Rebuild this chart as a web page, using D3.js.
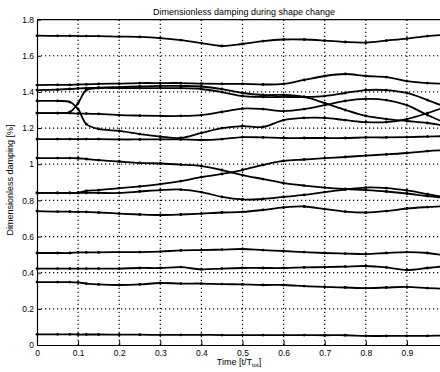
<!DOCTYPE html>
<html>
<head>
<meta charset="utf-8">
<script src="https://cdn.jsdelivr.net/npm/d3@7"></script>
<style>
body { margin: 0; background: #fff; }
text { font-family: "Liberation Sans", Arial, sans-serif; fill: #000; }
</style>
</head>
<body>
<svg width="440" height="372"></svg>
<script>
// time steps (t / T_tot) at which the curves were read
var time = [0, 0.05, 0.08, 0.1, 0.12, 0.15, 0.2, 0.25, 0.3, 0.35, 0.4, 0.45, 0.5, 0.55, 0.6, 0.65, 0.7, 0.75, 0.8, 0.85, 0.9, 0.95, 1];

// damping of each mode [%]
var mode1 = [1.711, 1.710, 1.710, 1.709, 1.709, 1.709, 1.706, 1.704, 1.698, 1.687, 1.670, 1.654, 1.665, 1.681, 1.690, 1.690, 1.684, 1.676, 1.673, 1.684, 1.695, 1.709, 1.717];
var mode2 = [1.438, 1.439, 1.439, 1.441, 1.442, 1.444, 1.446, 1.449, 1.449, 1.449, 1.446, 1.444, 1.444, 1.441, 1.444, 1.466, 1.488, 1.499, 1.488, 1.482, 1.460, 1.449, 1.444];
var mode3 = [1.410, 1.413, 1.416, 1.419, 1.421, 1.424, 1.427, 1.430, 1.433, 1.433, 1.430, 1.416, 1.394, 1.383, 1.383, 1.372, 1.338, 1.300, 1.267, 1.250, 1.239, 1.228, 1.211];
var mode4 = [1.283, 1.283, 1.289, 1.338, 1.410, 1.421, 1.421, 1.421, 1.421, 1.421, 1.416, 1.399, 1.377, 1.372, 1.372, 1.372, 1.377, 1.394, 1.410, 1.410, 1.394, 1.355, 1.311];
var mode5 = [1.350, 1.350, 1.344, 1.305, 1.222, 1.195, 1.184, 1.167, 1.153, 1.145, 1.173, 1.200, 1.211, 1.206, 1.244, 1.256, 1.256, 1.244, 1.233, 1.233, 1.250, 1.283, 1.322];
var mode6 = [1.283, 1.283, 1.283, 1.280, 1.280, 1.278, 1.272, 1.269, 1.267, 1.267, 1.272, 1.289, 1.308, 1.305, 1.294, 1.305, 1.327, 1.350, 1.361, 1.355, 1.327, 1.272, 1.222];
var mode7 = [1.139, 1.139, 1.139, 1.139, 1.139, 1.139, 1.137, 1.137, 1.137, 1.137, 1.134, 1.139, 1.150, 1.148, 1.145, 1.145, 1.145, 1.145, 1.148, 1.148, 1.150, 1.153, 1.156];
var mode8 = [1.034, 1.034, 1.034, 1.033, 1.029, 1.023, 1.015, 1.007, 1.004, 0.998, 0.990, 0.968, 0.940, 0.918, 0.896, 0.882, 0.871, 0.863, 0.857, 0.849, 0.838, 0.824, 0.813];
var mode9 = [0.841, 0.841, 0.841, 0.843, 0.852, 0.857, 0.868, 0.877, 0.890, 0.907, 0.929, 0.946, 0.968, 0.996, 1.018, 1.026, 1.034, 1.040, 1.048, 1.054, 1.062, 1.073, 1.079];
var mode10 = [0.841, 0.841, 0.841, 0.841, 0.841, 0.841, 0.841, 0.849, 0.857, 0.860, 0.846, 0.819, 0.805, 0.808, 0.819, 0.830, 0.846, 0.860, 0.871, 0.868, 0.855, 0.835, 0.813];
var mode11 = [0.741, 0.738, 0.738, 0.736, 0.736, 0.733, 0.727, 0.722, 0.719, 0.722, 0.727, 0.733, 0.736, 0.747, 0.761, 0.766, 0.752, 0.738, 0.733, 0.741, 0.755, 0.763, 0.769];
var mode12 = [0.509, 0.509, 0.509, 0.512, 0.512, 0.512, 0.514, 0.514, 0.517, 0.523, 0.525, 0.528, 0.531, 0.525, 0.520, 0.514, 0.509, 0.506, 0.503, 0.509, 0.514, 0.509, 0.492];
var mode13 = [0.423, 0.423, 0.423, 0.423, 0.423, 0.423, 0.423, 0.426, 0.426, 0.431, 0.418, 0.423, 0.426, 0.426, 0.426, 0.429, 0.431, 0.434, 0.437, 0.429, 0.415, 0.426, 0.437];
var mode14 = [0.348, 0.348, 0.348, 0.346, 0.340, 0.335, 0.332, 0.335, 0.343, 0.340, 0.340, 0.337, 0.335, 0.332, 0.332, 0.326, 0.321, 0.318, 0.315, 0.318, 0.321, 0.315, 0.310];
var mode15 = [0.059, 0.059, 0.059, 0.058, 0.058, 0.058, 0.057, 0.057, 0.056, 0.056, 0.056, 0.055, 0.055, 0.055, 0.055, 0.055, 0.054, 0.054, 0.050, 0.050, 0.050, 0.051, 0.052];

// the x = 1 tick falls outside the picture, so it is not listed
var xTicks = [0, 0.1, 0.2, 0.3, 0.4, 0.5, 0.6, 0.7, 0.8, 0.9];
var xTickLabels = ["0", "0.1", "0.2", "0.3", "0.4", "0.5", "0.6", "0.7", "0.8", "0.9"];
var yTicks = [0, 0.2, 0.4, 0.6, 0.8, 1, 1.2, 1.4, 1.6, 1.8];
var yTickLabels = ["0", "0.2", "0.4", "0.6", "0.8", "1", "1.2", "1.4", "1.6", "1.8"];

var modes = [mode1, mode2, mode3, mode4, mode5, mode6, mode7, mode8, mode9, mode10, mode11, mode12, mode13, mode14, mode15];

var xScale = d3.scaleLinear()
    .domain([0, 1])
    .range([37, 448]);

var yScale = d3.scaleLinear()
    .domain([0, 1.8])
    .range([345, 19.6]);

var svg = d3.select("svg");

// dotted grid
svg.append("g")
    .selectAll("line")
    .data(xTicks.slice(1))
    .enter().append("line")
    .attr("x1", function(d) { return xScale(d); })
    .attr("x2", function(d) { return xScale(d); })
    .attr("y1", yScale(0))
    .attr("y2", yScale(1.8))
    .attr("stroke", "#000")
    .attr("stroke-width", 1.2)
    .attr("stroke-dasharray", "1.2,2.8");

svg.append("g")
    .selectAll("line")
    .data(yTicks.slice(1, -1))
    .enter().append("line")
    .attr("x1", xScale(0))
    .attr("x2", xScale(1))
    .attr("y1", function(d) { return yScale(d); })
    .attr("y2", function(d) { return yScale(d); })
    .attr("stroke", "#000")
    .attr("stroke-width", 1.2)
    .attr("stroke-dasharray", "1.2,2.8");

// curves
var line = d3.line()
    .x(function(d, i) { return xScale(time[i]); })
    .y(function(d) { return yScale(d); })
    .curve(d3.curveCatmullRom);

svg.append("g")
    .selectAll("path")
    .data(modes)
    .enter().append("path")
    .attr("d", line)
    .attr("fill", "none")
    .attr("stroke", "#000")
    .attr("stroke-width", 1.8);

svg.append("g")
    .selectAll("g")
    .data(modes)
    .enter().append("g")
    .selectAll("circle")
    .data(function(d) { return d; })
    .enter().append("circle")
    .attr("cx", function(d, i) { return xScale(time[i]); })
    .attr("cy", function(d) { return yScale(d); })
    .attr("r", 1.4)
    .attr("fill", "#000");

// axes
var xAxis = d3.axisBottom(xScale)
    .tickValues(xTicks)
    .tickFormat(function(d, i) { return xTickLabels[i]; })
    .tickSizeInner(-4)
    .tickSizeOuter(0)
    .tickPadding(4.5);

var yAxis = d3.axisLeft(yScale)
    .tickValues(yTicks)
    .tickFormat(function(d, i) { return yTickLabels[i]; })
    .tickSizeInner(-4)
    .tickSizeOuter(0)
    .tickPadding(3);

svg.append("g")
    .attr("transform", "translate(0," + yScale(0) + ")")
    .call(xAxis);

svg.append("g")
    .attr("transform", "translate(" + xScale(0) + ",0)")
    .call(yAxis);

svg.selectAll(".tick text")
    .style("font-size", "8.5px")
    .style("font-family", "'Liberation Sans', Arial, sans-serif");
svg.selectAll(".domain").attr("stroke", "#000").attr("stroke-width", 1.2);
svg.selectAll(".tick line").attr("stroke", "#000");

// top border
svg.append("line")
    .attr("x1", xScale(0))
    .attr("x2", xScale(1))
    .attr("y1", yScale(1.8))
    .attr("y2", yScale(1.8))
    .attr("stroke", "#000")
    .attr("stroke-width", 1.2);

// labels
svg.append("text")
    .attr("x", 244)
    .attr("y", 15)
    .attr("text-anchor", "middle")
    .style("font-size", "9px")
    .text("Dimensionless damping during shape change");

var xl = svg.append("text")
    .attr("x", 239)
    .attr("y", 365)
    .attr("text-anchor", "middle")
    .style("font-size", "9px");
xl.append("tspan").text("Time [t/T");
xl.append("tspan").attr("dy", 2).style("font-size", "6px").text("tot");
xl.append("tspan").attr("dy", -2).text("]");

svg.append("text")
    .attr("transform", "translate(13,180) rotate(-90)")
    .attr("text-anchor", "middle")
    .style("font-size", "9px")
    .text("Dimensionless damping [%]");
</script>
</body>
</html>
